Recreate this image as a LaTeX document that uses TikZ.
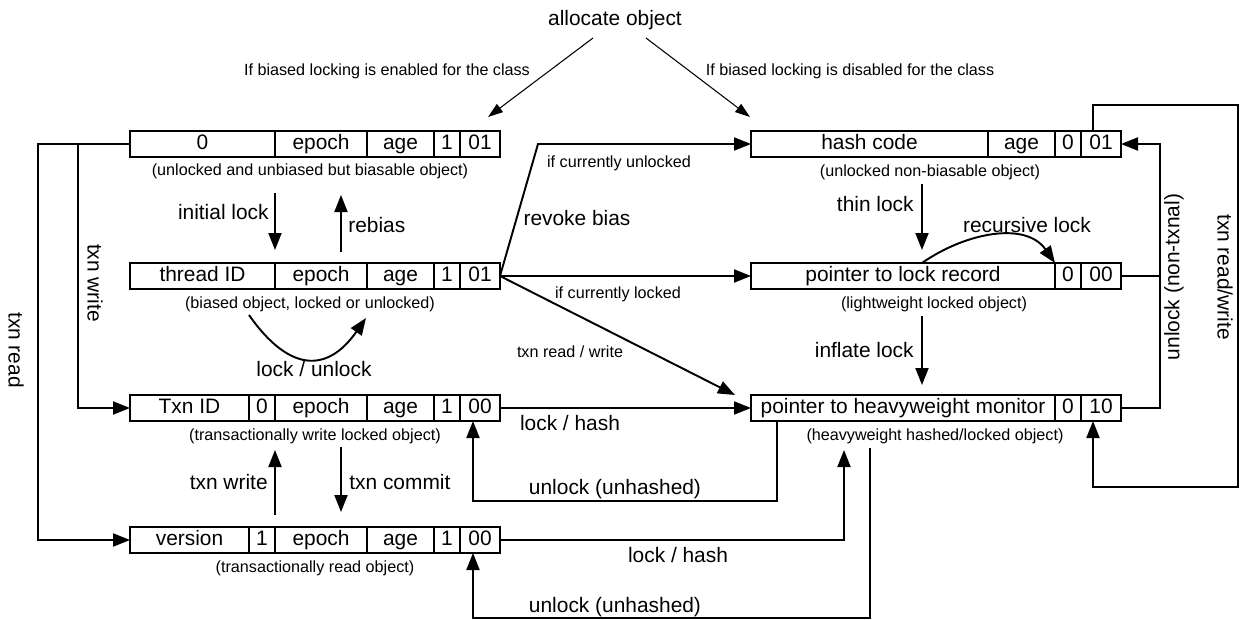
\documentclass[tikz,border=0pt]{standalone}
\usepackage{fontspec}
\setmainfont{Liberation Sans}
\usetikzlibrary{arrows.meta}
\newcommand{\bigfnt}{\fontsize{11.9pt}{14pt}\selectfont}
\newcommand{\smallfnt}{\fontsize{9.2pt}{11pt}\selectfont}
\tikzset{
  cell/.style={draw, line width=0.6pt, anchor=west, minimum height=0.52cm, inner sep=0pt, outer sep=0pt, text height=0.7em, text depth=0.1em, font=\bigfnt},
  cellw/.style={minimum width=#1*0.02cm},
  conn/.style={line width=1.1pt, -{Triangle[length=0.34cm, width=0.26cm]}},
  wire/.style={line width=1.1pt},
  thinarrow/.style={line width=0.6pt, -{Triangle[length=0.3cm, width=0.2cm]}},
  lbl/.style={font=\bigfnt, inner sep=0pt},
  sublbl/.style={font=\smallfnt, inner sep=0pt},
}
\begin{document}
\begin{tikzpicture}[x=0.02cm, y=-0.02cm]
			\fill[white] (0,0) rectangle (1241,619);

			% Draw the header words
			\node[lbl] (alloc) at (615,20) {allocate object};
			\node[sublbl] (enabled) at (387,71) {If biased locking is enabled for the class};
			\node[sublbl] (disabled) at (850,71) {If biased locking is disabled for the class};
			\coordinate (enA) at (593,38);
			\coordinate (enB) at (488,117);
			\coordinate (disA) at (646,38);
			\coordinate (disB) at (750,117);
			\draw[thinarrow] (enA) -- (enB);
			\draw[thinarrow] (disA) -- (disB);

			% Draw the left boxes
			\node[cell, cellw=145] (a0) at (130,144) {0};
			\node[cell, cellw=92] (a1) at (275,144) {epoch};
			\node[cell, cellw=67] (a2) at (367,144) {age};
			\node[cell, cellw=26] (a3) at (434,144) {1};
			\node[cell, cellw=40] (a4) at (460,144) {01};
			\node[sublbl] (asub) at (310,171) {(unlocked and unbiased but biasable object)};

			\node[cell, cellw=145] (b0) at (130,276) {thread ID};
			\node[cell, cellw=92] (b1) at (275,276) {epoch};
			\node[cell, cellw=67] (b2) at (367,276) {age};
			\node[cell, cellw=26] (b3) at (434,276) {1};
			\node[cell, cellw=40] (b4) at (460,276) {01};
			\node[sublbl] (bsub) at (310,304) {(biased object, locked or unlocked)};

			\node[cell, cellw=119] (c0) at (130,408) {Txn ID};
			\node[cell, cellw=26] (c1) at (249,408) {0};
			\node[cell, cellw=92] (c2) at (275,408) {epoch};
			\node[cell, cellw=67] (c3) at (367,408) {age};
			\node[cell, cellw=26] (c4) at (434,408) {1};
			\node[cell, cellw=40] (c5) at (460,408) {00};
			\node[sublbl] (csub) at (315,436) {(transactionally write locked object)};

			\node[cell, cellw=119] (d0) at (130,540) {version};
			\node[cell, cellw=26] (d1) at (249,540) {1};
			\node[cell, cellw=92] (d2) at (275,540) {epoch};
			\node[cell, cellw=67] (d3) at (367,540) {age};
			\node[cell, cellw=26] (d4) at (434,540) {1};
			\node[cell, cellw=40] (d5) at (460,540) {00};
			\node[sublbl] (dsub) at (315,568) {(transactionally read object)};

			% Draw the right boxes
			\node[cell, cellw=237] (h0) at (751,144) {hash code};
			\node[cell, cellw=67] (h1) at (988,144) {age};
			\node[cell, cellw=26] (h2) at (1055,144) {0};
			\node[cell, cellw=40] (h3) at (1081,144) {01};
			\node[sublbl] (hsub) at (930,172) {(unlocked non-biasable object)};

			\node[cell, cellw=304] (l0) at (751,276) {pointer to lock record};
			\node[cell, cellw=26] (l1) at (1055,276) {0};
			\node[cell, cellw=40] (l2) at (1081,276) {00};
			\node[sublbl] (lsub) at (934,304) {(lightweight locked object)};

			\node[cell, cellw=304] (m0) at (751,408) {pointer to heavyweight monitor};
			\node[cell, cellw=26] (m1) at (1055,408) {0};
			\node[cell, cellw=40] (m2) at (1081,408) {10};
			\node[sublbl] (msub) at (935,436) {(heavyweight hashed/locked object)};

			% Draw the transitions on the left
			\coordinate (wrB) at (78,408);
			\coordinate (rdB) at (38,540);
			\draw[conn] (a0.west) -| (wrB) -- (c0.west);
			\draw[conn] (a0.west) -| (rdB) -- (d0.west);
			\node[lbl, rotate=-90] (txnw) at (95,283) {txn write};
			\node[lbl, rotate=-90] (txnr) at (16,350) {txn read};

			\coordinate (ilA) at (275,193);
			\coordinate (ilB) at (275,250);
			\coordinate (rbA) at (341,252);
			\coordinate (rbB) at (341,195);
			\draw[conn] (ilA) -- (ilB);
			\draw[conn] (rbA) -- (rbB);
			\node[lbl, anchor=east] (initial) at (269,212) {initial lock};
			\node[lbl, anchor=west] (rebias) at (348,225) {rebias};

			\coordinate (luA) at (249,315);
			\coordinate (luB) at (366,318);
			\draw[conn] (luA) to[out=-55, in=-125, looseness=1.5] (luB);
			\node[lbl] (lockunlock) at (314,369) {lock / unlock};

			\coordinate (twA) at (275,515);
			\coordinate (twB) at (275,450);
			\coordinate (tcA) at (341,447);
			\coordinate (tcB) at (341,512);
			\draw[conn] (twA) -- (twB);
			\draw[conn] (tcA) -- (tcB);
			\node[lbl, anchor=east] (txnwrite) at (268,482) {txn write};
			\node[lbl, anchor=west] (txncommit) at (349,482) {txn commit};

			% Draw the transitions across the middle
			\coordinate (rvB) at (538,144);
			\draw[conn] (b4.east) -- (rvB) -- (h0.west);
			\node[sublbl] (ifunl) at (619,163) {if currently unlocked};
			\node[lbl] (revoke) at (577,218) {revoke bias};

			\draw[conn] (b4.east) -- (l0.west);
			\node[sublbl] (iflck) at (618,294) {if currently locked};

			\coordinate (trwB) at (735,395);
			\draw[conn] (b4.east) -- (trwB);
			\node[sublbl] (txnrw) at (570,352) {txn read / write};

			\draw[conn] (c5.east) -- (m0.west);
			\node[lbl] (lockhashA) at (570,423) {lock / hash};

			\coordinate (uhA) at (777,501);
			\coordinate (uhB) at (473,501);
			\draw[conn] (m0.south -| uhA) -- (uhA) -- (uhB) -- (c5.south -| uhB);
			\node[lbl] (unlockA) at (615,489) {unlock (unhashed)};

			\coordinate (lhT) at (844,450);
			\draw[conn] (d5.east) -| (lhT);
			\node[lbl] (lockhashB) at (678,555) {lock / hash};

			\coordinate (ulA) at (870,448);
			\coordinate (ulB) at (473,618);
			\draw[conn] (ulA) |- (ulB) -- (d5.south -| ulB);
			\node[lbl] (unlockB) at (615,607) {unlock (unhashed)};

			% Draw the transitions on the right
			\coordinate (tlA) at (922,184);
			\coordinate (tlB) at (922,250);
			\draw[conn] (tlA) -- (tlB);
			\node[lbl, anchor=east] (thin) at (914,204) {thin lock};

			\coordinate (rcA) at (922,263);
			\draw[conn] (rcA) to[out=35, in=125] (l1.north west);
			\node[lbl] (recursive) at (1027,225) {recursive lock};

			\coordinate (ifA) at (922,316);
			\coordinate (ifB) at (922,385);
			\draw[conn] (ifA) -- (ifB);
			\node[lbl, anchor=east] (inflate) at (914,350) {inflate lock};

			\coordinate (ntB) at (1160,144);
			\draw[wire] (l2.east) -- (l2.east -| ntB);
			\draw[conn] (m2.east) -| (ntB) -- (h3.east);
			\node[lbl, rotate=90] (nontx) at (1174,277) {unlock (non-txnal)};

			\coordinate (trA) at (1093,105);
			\coordinate (trB) at (1238,487);
			\draw[conn] (h3.north -| trA) -- (trA) -| (trB) -| (m2.south -| trA);
			\node[lbl, rotate=-90] (txnrwr) at (1225,277) {txn read/write};

		\end{tikzpicture}
\end{document}
